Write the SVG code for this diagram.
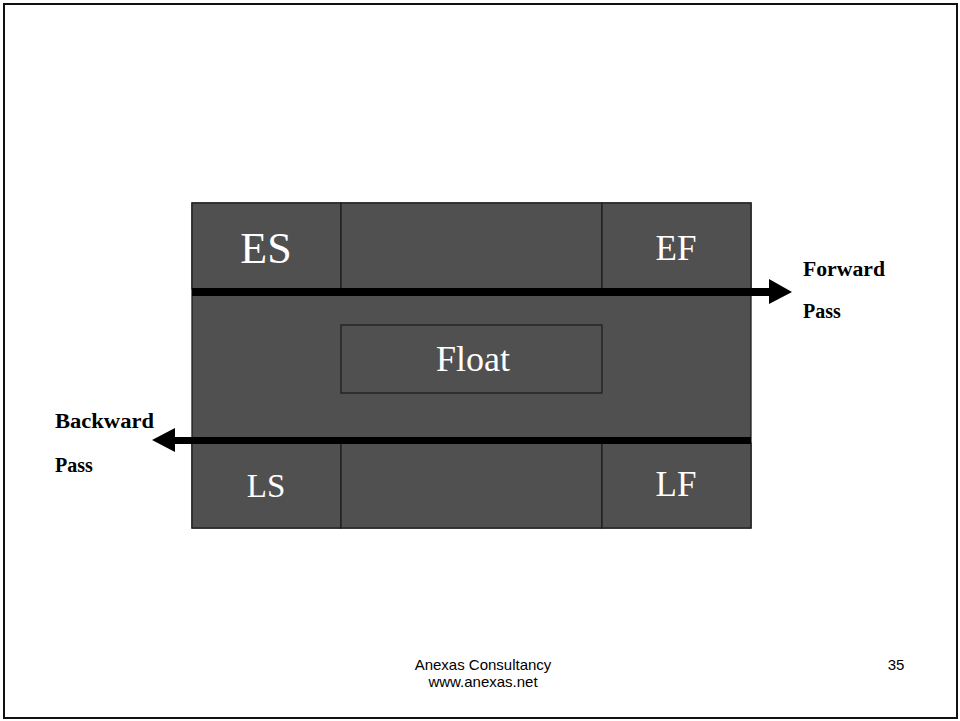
<svg xmlns="http://www.w3.org/2000/svg" width="960" height="721" viewBox="0 0 960 721">
<defs>
<style>
.cell{fill:#505050;stroke:#1e1e1e;stroke-width:1.3}
.big{font-family:"Liberation Serif",serif;fill:#ffffff;text-anchor:middle}
.lbl{font-family:"Liberation Serif",serif;font-weight:bold;font-size:20px;fill:#000}
.foot{font-family:"Liberation Sans",Arial,sans-serif;font-size:15px;fill:#000;text-anchor:middle}
.bar{fill:#000}
</style>
</defs>
<rect x="0" y="0" width="960" height="721" fill="#ffffff"/>
<rect x="4" y="4" width="953" height="714" fill="none" stroke="#111" stroke-width="2"/>
<g id="activity-box">
<rect class="cell" x="192" y="203" width="559" height="325"/>
</g>
<g id="ES"><rect class="cell" x="192" y="203" width="149" height="86"/><text class="big" x="266" y="263" font-size="44">ES</text></g>
<g id="top-mid"><rect class="cell" x="341" y="203" width="261" height="86"/></g>
<g id="EF"><rect class="cell" x="602" y="203" width="149" height="86"/><text class="big" x="676" y="260" font-size="35" fill="#e8e8e8">EF</text></g>
<g id="Float"><rect class="cell" x="341" y="325" width="261" height="68"/><text class="big" x="473" y="371" font-size="36">Float</text></g>
<g id="LS"><rect class="cell" x="192" y="443" width="149" height="85"/><text class="big" x="266" y="497" font-size="33">LS</text></g>
<g id="bottom-mid"><rect class="cell" x="341" y="443" width="261" height="85"/></g>
<g id="LF"><rect class="cell" x="602" y="443" width="149" height="85"/><text class="big" x="676" y="496" font-size="35">LF</text></g>
<g id="connectors">
<g id="forward-pass">
<rect class="bar" x="192" y="288" width="578" height="8"/>
<polygon class="bar" points="769,279 792,292 769,304"/>
</g>
<g id="backward-pass">
<rect class="bar" x="174" y="437" width="577" height="7"/>
<polygon class="bar" points="175,428 152,440 175,452"/>
</g>
</g>
<g id="labels">
<text class="lbl" x="803" y="276" textLength="82" lengthAdjust="spacingAndGlyphs">Forward</text>
<text class="lbl" x="803" y="318">Pass</text>
<text class="lbl" x="55" y="428" textLength="99" lengthAdjust="spacingAndGlyphs">Backward</text>
<text class="lbl" x="55" y="472">Pass</text>
</g>
<g id="footer">
<text class="foot" x="483" y="670">Anexas Consultancy</text>
<text class="foot" x="483" y="687">www.anexas.net</text>
<text class="foot" x="896" y="670">35</text>
</g>
</svg>
